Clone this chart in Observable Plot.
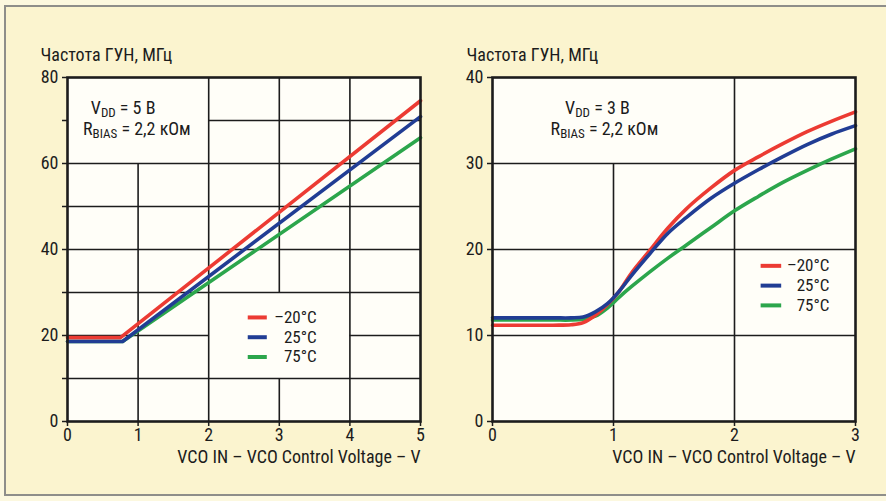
<!DOCTYPE html>
<html>
<head>
<meta charset="utf-8">
<script src="https://cdn.jsdelivr.net/npm/d3@7"></script>
<script src="https://cdn.jsdelivr.net/npm/@observablehq/plot@0.6"></script>
<style>
  body { margin: 0; background: #fcf8df; }
  #wrap { position: relative; width: 886px; height: 501px; overflow: hidden; background: #fcf8df; }
  #border { position: absolute; left: 4px; top: 5px; width: 900px; height: 487px; border: 2px solid #8e8e8a; background: #fbf4cf; }
  #left { position: absolute; left: 0; top: 45px; }
  #right { position: absolute; left: 443px; top: 45px; }
</style>
</head>
<body>
<div id="wrap">
  <div id="border"></div>
  <div id="left"></div>
  <div id="right"></div>
</div>
<script>
// ---------- data ----------
const yTitle = "Частота ГУН, МГц";
const xTitle = "VCO IN – VCO Control Voltage – V";
const seriesNames = ["–20°C", "25°C", "75°C"];
const seriesColors = ["#ec3b33", "#213d94", "#2ca64c"];

// left panel (VDD = 5 V)
const xTicksL = [0, 1, 2, 3, 4, 5];
const yTicksL = [0, 10, 20, 30, 40, 50, 60, 70, 80];
const yLabelsL = [0, 20, 40, 60, 80];
const vL_red = [0, 0.75, 5];
const fL_red = [19.5, 19.5, 74.6];
const vL_blue = [0, 0.78, 5];
const fL_blue = [18.6, 18.6, 70.9];
const vL_green = [0, 0.78, 5];
const fL_green = [18.6, 18.6, 66.0];

// right panel (VDD = 3 V)
const xTicksR = [0, 1, 2, 3];
const yTicksR = [0, 10, 20, 30, 40];
const vR = [0, 0.5, 0.65, 0.75, 0.85, 0.95, 1.05, 1.15, 1.3, 1.45, 1.6, 1.8, 2.0, 2.2, 2.4, 2.6, 2.8, 3.0];
const fR_red   = [11.2, 11.2, 11.25, 11.5, 12.35, 13.6, 15.2, 17.3, 19.9, 22.5, 24.7, 27.1, 29.2, 30.8, 32.3, 33.7, 34.9, 36.0];
const fR_blue  = [12.05, 12.05, 12.05, 12.15, 12.75, 13.7, 15.2, 17.0, 19.5, 21.9, 23.7, 25.9, 27.7, 29.3, 30.8, 32.2, 33.4, 34.4];
const fR_green = [11.8, 11.8, 11.8, 11.9, 12.25, 13.2, 14.5, 15.7, 17.4, 19.0, 20.5, 22.5, 24.5, 26.2, 27.8, 29.2, 30.5, 31.7];

// grid segments (data space)
const gridV_L = [
  {x: 1, y1: 0, y2: 60}, {x: 2, y1: 0, y2: 80},
  {x: 3, y1: 0, y2: 10}, {x: 3, y1: 30, y2: 80}, {x: 4, y1: 0, y2: 80}
];
const gridH_L = [
  {y: 10, x1: 0, x2: 5}, {y: 20, x1: 0, x2: 2}, {y: 20, x1: 4, x2: 5},
  {y: 30, x1: 0, x2: 5}, {y: 40, x1: 0, x2: 5}, {y: 50, x1: 0, x2: 5},
  {y: 60, x1: 0, x2: 5}, {y: 70, x1: 2, x2: 5}
];
const gridV_R = [{x: 1, y1: 0, y2: 30}, {x: 2, y1: 0, y2: 40}];
const gridH_R = [{y: 10, x1: 0, x2: 3}, {y: 20, x1: 0, x2: 3}, {y: 30, x1: 0, x2: 3}];

// annotations
const annotL = [
  {x: 0.33, y: 72.9, main: "V", sub: "DD", rest: " = 5 В"},
  {x: 0.22, y: 68.0, main: "R", sub: "BIAS", rest: " = 2,2 кОм"}
];
const annotR = [
  {x: 0.60, y: 36.45, main: "V", sub: "DD", rest: " = 3 В"},
  {x: 0.48, y: 34.0, main: "R", sub: "BIAS", rest: " = 2,2 кОм"}
];
// legends
const legendL = {x1: 2.56, x2: 2.83, xt: 3.53, y: [24.2, 19.6, 15.0]};
const legendR = {x1: 2.22, x2: 2.39, xt: 2.785, y: [18.1, 15.8, 13.5]};

// ---------- build ----------
const FONT = "'Liberation Sans Narrow', 'Roboto Condensed', 'DejaVu Sans Condensed', 'Arial Narrow', sans-serif";
const INK = "#1c1c1c";

function rows(v, f, s) { return v.map((x, i) => ({v: x, f: f[i], s})); }
const dataL = [
  ...rows(vL_green, fL_green, seriesNames[2]),
  ...rows(vL_red, fL_red, seriesNames[0]),
  ...rows(vL_blue, fL_blue, seriesNames[1])
];
const dataR = [
  ...rows(vR, fR_green, seriesNames[2]),
  ...rows(vR, fR_red, seriesNames[0]),
  ...rows(vR, fR_blue, seriesNames[1])
];

function panel(o) {
  const leg = seriesNames.map((n, i) => ({name: n, y: o.legend.y[i]}));
  return Plot.plot({
    width: o.width, height: 426,
    marginLeft: o.marginLeft, marginRight: 3, marginTop: 32, marginBottom: 50,
    x: {domain: o.xDomain},
    y: {domain: o.yDomain},
    color: {domain: seriesNames, range: seriesColors},
    style: {fontFamily: FONT, fontSize: "18px", color: INK, overflow: "visible", background: "transparent"},
    marks: [
      Plot.frame({fill: "#fffef8", stroke: null}),
      Plot.ruleX(o.gridV, {x: "x", y1: "y1", y2: "y2", stroke: INK, strokeWidth: 1.6}),
      Plot.ruleY(o.gridH, {y: "y", x1: "x1", x2: "x2", stroke: INK, strokeWidth: 1.6}),
      Plot.line(o.data, {x: "v", y: "f", z: "s", stroke: "s", strokeWidth: 3.6, curve: o.curve}),
      Plot.ruleY(leg, {y: "y", x1: o.legend.x1, x2: o.legend.x2, stroke: "name", strokeWidth: 4}),
      Plot.text(leg, {y: "y", x: o.legend.xt, text: "name", textAnchor: "end", fill: INK, fontSize: 17}),
      Plot.text(o.annot, {x: "x", y: "y", text: d => d.main + d.sub + d.rest, textAnchor: "start", fill: INK}),
      Plot.frame({stroke: INK, strokeWidth: 2.6}),
      Plot.axisY({ticks: o.yTicks, tickFormat: d => o.yLabels.includes(d) ? String(d) : "",
        tickSize: 5, tickPadding: 4, strokeWidth: 1.5,
        label: yTitle, labelAnchor: "top", labelArrow: "none", labelOffset: o.yLabelOffset}),
      Plot.axisX({ticks: o.xTicks, tickFormat: d => String(d), tickSize: 5, tickPadding: 2, strokeWidth: 1.5,
        label: xTitle, labelAnchor: "right", labelArrow: "none", labelOffset: 41})
    ]
  });
}

function subscripts(svg, annot) {
  d3.select(svg).selectAll("text").each(function () {
    const a = annot.find(d => d.main + d.sub + d.rest === this.textContent);
    if (!a) return;
    const t = d3.select(this);
    t.text(null);
    t.append("tspan").text(a.main);
    t.append("tspan").attr("font-size", "13px").attr("dy", "3").text(a.sub);
    t.append("tspan").attr("dy", "-3").text(a.rest);
  });
}

const left = panel({
  width: 423, marginLeft: 67, xDomain: [0, 5], yDomain: [0, 80],
  gridV: gridV_L, gridH: gridH_L, data: dataL, curve: "linear",
  legend: legendL, annot: annotL, xTicks: xTicksL, yTicks: yTicksL, yLabels: yLabelsL, yLabelOffset: 27
});
subscripts(left, annotL);
document.getElementById("left").appendChild(left);

const right = panel({
  width: 415, marginLeft: 49, xDomain: [0, 3], yDomain: [0, 40],
  gridV: gridV_R, gridH: gridH_R, data: dataR, curve: "catmull-rom",
  legend: legendR, annot: annotR, xTicks: xTicksR, yTicks: yTicksR, yLabels: yTicksR, yLabelOffset: 26
});
subscripts(right, annotR);
document.getElementById("right").appendChild(right);
</script>
</body>
</html>
